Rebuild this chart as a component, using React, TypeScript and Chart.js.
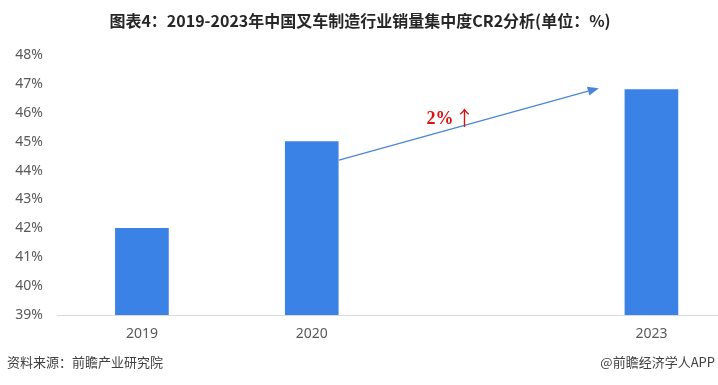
import React, { useEffect, useRef } from "react";
import { Chart, registerables } from "chart.js";

Chart.register(...registerables);

const categories = ["2019", "2020", "", "2023"];
const cr2Values: (number | null)[] = [42, 45, null, 46.8];
const yTicks = [39, 40, 41, 42, 43, 44, 45, 46, 47, 48];
const titleText = "图表4：2019-2023年中国叉车制造行业销量集中度CR2分析(单位：%)";
const sourceText = "资料来源：前瞻产业研究院";
const creditText = "@前瞻经济学人APP";
const growthValue = "2%";
const growthArrow = "↑";
const arrowStart = { x: 1.16, y: 44.36 };
const arrowEnd = { x: 2.69, y: 46.85 };
const growthLabelPos = { x: 1.675, y: 45.6 };

const W = 718;
const H = 385;

export default function App() {
  const ref = useRef<HTMLCanvasElement | null>(null);
  useEffect(() => {
    const canvas = ref.current;
    if (!canvas) return;
    const points = cr2Values
      .map((v, i) => (v == null ? null : { x: i, y: v }))
      .filter((p) => p !== null) as { x: number; y: number }[];

    const overlay = {
      id: "overlay",
      afterDraw(chart: any) {
        const ctx = chart.ctx as CanvasRenderingContext2D;
        const xs = chart.scales.x;
        const ys = chart.scales.y;
        ctx.save();
        // title
        ctx.fillStyle = "#262626";
        ctx.font = 'bold 16px "Noto Sans CJK SC", sans-serif';
        ctx.textAlign = "center";
        ctx.textBaseline = "middle";
        ctx.fillText(titleText, 360, 21);
        // footer
        ctx.font = '13px "Noto Sans CJK SC", sans-serif';
        ctx.fillStyle = "#404040";
        ctx.textAlign = "left";
        ctx.fillText(sourceText, 7, 362);
        ctx.textAlign = "right";
        ctx.fillText(creditText, 715, 362);
        // arrow
        const x1 = xs.getPixelForValue(arrowStart.x);
        const y1 = ys.getPixelForValue(arrowStart.y);
        const x2 = xs.getPixelForValue(arrowEnd.x);
        const y2 = ys.getPixelForValue(arrowEnd.y);
        const ang = Math.atan2(y2 - y1, x2 - x1);
        const headLen = 11;
        const headW = 4.5;
        ctx.strokeStyle = "#4a86d6";
        ctx.fillStyle = "#4a86d6";
        ctx.lineWidth = 1.2;
        ctx.beginPath();
        ctx.moveTo(x1, y1);
        ctx.lineTo(x2 - Math.cos(ang) * headLen, y2 - Math.sin(ang) * headLen);
        ctx.stroke();
        ctx.beginPath();
        ctx.moveTo(x2, y2);
        ctx.lineTo(
          x2 - Math.cos(ang) * headLen - Math.sin(ang) * headW,
          y2 - Math.sin(ang) * headLen + Math.cos(ang) * headW
        );
        ctx.lineTo(
          x2 - Math.cos(ang) * headLen + Math.sin(ang) * headW,
          y2 - Math.sin(ang) * headLen - Math.cos(ang) * headW
        );
        ctx.closePath();
        ctx.fill();
        // growth label
        const lx = xs.getPixelForValue(growthLabelPos.x);
        const ly = ys.getPixelForValue(growthLabelPos.y);
        ctx.fillStyle = "#e01010";
        ctx.textBaseline = "alphabetic";
        ctx.textAlign = "left";
        ctx.font = 'bold 18px "Liberation Serif", serif';
        ctx.fillText(growthValue, lx, ly);
        const w = ctx.measureText(growthValue).width;
        ctx.font = '20px "Noto Sans CJK SC", sans-serif';
        ctx.fillText(growthArrow, lx + w + 1, ly + 2);
        ctx.restore();
      },
    };

    const chart = new Chart(canvas, {
      type: "bar",
      data: {
        datasets: [
          {
            data: points as any,
            backgroundColor: "#3b82e6",
            barThickness: 53,
          },
        ],
      },
      options: {
        animation: false,
        responsive: false,
        maintainAspectRatio: false,
        layout: { padding: { top: 55, bottom: 40, left: 0, right: 0 } },
        plugins: { legend: { display: false }, tooltip: { enabled: false } },
        scales: {
          x: {
            type: "linear",
            min: -0.5,
            max: 3.392,
            offset: false,
            grid: { display: false, drawTicks: false, offset: false },
            border: { display: true, color: "#d9d9d9", width: 1 },
            afterBuildTicks: (scale: any) => {
              scale.ticks = categories
                .map((c, i) => ({ value: i, label: c }))
                .filter((t) => t.label !== "")
                .map((t) => ({ value: t.value }));
            },
            afterFit: (scale: any) => {
              scale.height = 30;
            },
            ticks: {
              autoSkip: false,
              maxRotation: 0,
              padding: 11,
              color: "#595959",
              font: { family: '"Noto Sans", sans-serif', size: 14 },
              callback: (v: any) => categories[Math.round(Number(v))] ?? "",
            },
          },
          y: {
            min: 39,
            max: 48,
            grid: { display: false, drawTicks: false },
            border: { display: false },
            afterBuildTicks: (scale: any) => {
              scale.ticks = yTicks.map((v) => ({ value: v }));
            },
            afterFit: (scale: any) => {
              scale.width = 57;
            },
            ticks: {
              padding: 14,
              color: "#595959",
              font: { family: '"Noto Sans", sans-serif', size: 14 },
              callback: (v: any) => `${v}%`,
            },
          },
        },
      },
      plugins: [overlay],
    });
    return () => chart.destroy();
  }, []);

  return (
    <div
      style={{
        position: "fixed",
        left: 0,
        top: 0,
        width: W,
        height: H,
        background: "#ffffff",
        overflow: "hidden",
      }}
    >
      <canvas ref={ref} width={W} height={H} style={{ width: W, height: H, display: "block" }} />
    </div>
  );
}
